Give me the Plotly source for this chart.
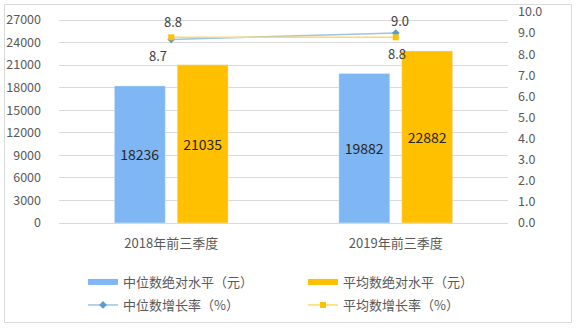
import plotly.graph_objects as go

categories = ["2018年前三季度", "2019年前三季度"]
median_level = [18236, 19882]
mean_level = [21035, 22882]
median_growth = [8.7, 9.0]
mean_growth = [8.8, 8.8]
left_ticks = [0, 3000, 6000, 9000, 12000, 15000, 18000, 21000, 24000, 27000]
right_ticks = [0.0, 1.0, 2.0, 3.0, 4.0, 5.0, 6.0, 7.0, 8.0, 9.0, 10.0]
names = ["中位数绝对水平（元）", "平均数绝对水平（元）", "中位数增长率（%）", "平均数增长率（%）"]

BLUE = "#7FB6F4"
ORANGE = "#FFC000"
FONT = "Noto Sans CJK SC"
TICKC = "#595959"

fig = go.Figure()
fig.add_trace(go.Bar(x=categories, y=median_level, marker=dict(color=BLUE), showlegend=False,
                     text=[str(v) for v in median_level], textposition="inside", insidetextanchor="middle",
                     textangle=0, constraintext="none",
                     textfont=dict(color="#262626", size=14, family=FONT)))
fig.add_trace(go.Bar(x=categories, y=mean_level, marker=dict(color=ORANGE), showlegend=False,
                     text=[str(v) for v in mean_level], textposition="inside", insidetextanchor="middle",
                     textangle=0, constraintext="none",
                     textfont=dict(color="#262626", size=14, family=FONT)))
fig.add_trace(go.Scatter(x=categories, y=median_growth, yaxis="y2", mode="lines+markers",
                         line=dict(color="#9DC3E6", width=1.5),
                         marker=dict(symbol="diamond", size=6, color="#5B9BD5"),
                         showlegend=False))
fig.add_trace(go.Scatter(x=categories, y=mean_growth, yaxis="y2", mode="lines+markers",
                         line=dict(color="#FFD966", width=1.5),
                         marker=dict(symbol="square", size=6, color=ORANGE),
                         showlegend=False))

# legend entries
fig.add_trace(go.Scatter(x=[None], y=[None], mode="lines", line=dict(color=BLUE, width=6),
                         name=names[0], legend="legend"))
fig.add_trace(go.Scatter(x=[None], y=[None], mode="lines", line=dict(color=ORANGE, width=6),
                         name=names[1], legend="legend"))
fig.add_trace(go.Scatter(x=[None], y=[None], mode="lines+markers", line=dict(color="#9DC3E6", width=1.5),
                         marker=dict(symbol="diamond", size=6, color="#5B9BD5"),
                         name=names[2], legend="legend2"))
fig.add_trace(go.Scatter(x=[None], y=[None], mode="lines+markers", line=dict(color="#FFD966", width=1.5),
                         marker=dict(symbol="square", size=6, color=ORANGE),
                         name=names[3], legend="legend2"))

# line data labels
ann = []
lab_font = dict(color="#404040", size=13, family=FONT)
med_shift = [(-13, -16), (4, 13)]
mean_shift = [(2, 16), (1, -16)]
for i, c in enumerate(categories):
    ann.append(dict(x=c, y=median_growth[i], xref="x", yref="y2", text=f"{median_growth[i]:.1f}",
                    showarrow=False, xshift=med_shift[i][0], yshift=med_shift[i][1], font=lab_font))
    ann.append(dict(x=c, y=mean_growth[i], xref="x", yref="y2", text=f"{mean_growth[i]:.1f}",
                    showarrow=False, xshift=mean_shift[i][0], yshift=mean_shift[i][1], font=lab_font))

W, H = 580, 332
ml, mr, mt, mb = 59, 72, 12, 109
pw, ph = W - ml - mr, H - mt - mb

def px(x):
    return (x - ml) / pw

def py(y):
    return (H - mb - y) / ph

leg_common = dict(orientation="h", xanchor="left", yanchor="middle",
                  xref="container", yref="container",
                  entrywidth=175, entrywidthmode="pixels", font=dict(size=13, color=TICKC),
                  bgcolor="rgba(0,0,0,0)", borderwidth=0)

fig.update_layout(
    width=W, height=H,
    margin=dict(l=ml, r=mr, t=mt, b=mb, pad=0, autoexpand=False),
    paper_bgcolor="white", plot_bgcolor="white",
    font=dict(family=FONT, size=12, color=TICKC),
    barmode="group", bargap=0.44, bargroupgap=0.19,
    xaxis=dict(showgrid=False, showline=True, linecolor="#D9D9D9", linewidth=1,
               ticks="", tickfont=dict(size=13, color=TICKC), ticklabelstandoff=8),
    yaxis=dict(range=[0, 27000 * ph / 203], tickvals=left_ticks, ticktext=[str(v) for v in left_ticks],
               showgrid=True, gridcolor="#D9D9D9", gridwidth=1, zeroline=False,
               ticks="", tickfont=dict(size=12.5, color=TICKC), ticklabelstandoff=17),
    yaxis2=dict(range=[0, 10], overlaying="y", side="right", tickvals=right_ticks,
                ticktext=[f"{v:.1f}" for v in right_ticks], showgrid=False, zeroline=False,
                ticks="", tickfont=dict(size=12.5, color=TICKC), ticklabelstandoff=9),
    legend=dict(x=83 / W, y=1 - 282 / H, **leg_common),
    legend2=dict(x=83 / W, y=1 - 305 / H, **leg_common),
    annotations=ann,
    shapes=[dict(type="rect", xref="paper", yref="paper", x0=px(4.5), x1=px(571.5), y0=py(322.5), y1=py(4.5),
                 line=dict(color="#D9D9D9", width=1), layer="below")],
    showlegend=True,
)

fig.write_html("out.html")
